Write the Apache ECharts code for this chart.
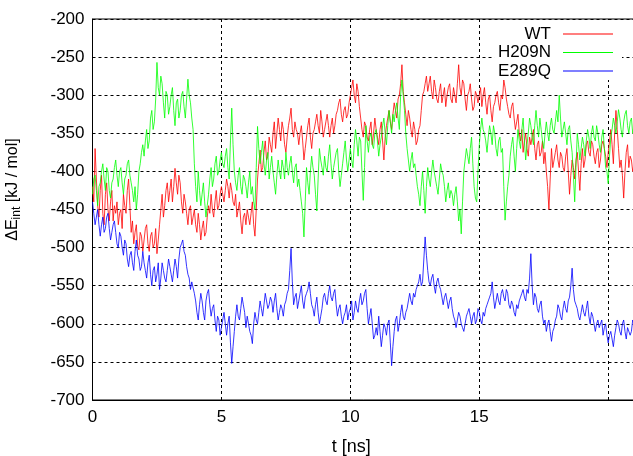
<!DOCTYPE html>
<html>
<head>
<meta charset="utf-8">
<script src="https://cdn.jsdelivr.net/npm/echarts@6/dist/echarts.min.js"></script>
<style>
html,body{margin:0;padding:0;background:#fff;}
#chart{width:633px;height:456px;}
</style>
</head>
<body>
<div id="chart"></div>
<script>
// Sampling step of the time axis (ns)
const tStep = 0.05;
const seriesNames = ['WT', 'H209N', 'E289Q'];
const seriesColors = ['#ff0000', '#00ff00', '#0000ff'];
const xTicks = [0, 5, 10, 15, 20];
const yTicks = [-700, -650, -600, -550, -500, -450, -400, -350, -300, -250, -200];

const wt = [
-420,-440,-370,-410,-445,-460,-425,-405,-455,-470,-430,-415,-450,-465,-440,-425,-465,-445,-455,-440,
-470,-455,-450,-475,-430,-445,-455,-425,-410,-445,-480,-465,-495,-480,-470,-498,-503,-480,-485,-505,
-490,-475,-470,-495,-505,-485,-480,-500,-495,-475,-508,-490,-470,-450,-430,-460,-445,-425,-415,-440,
-425,-410,-440,-420,-396,-415,-430,-405,-415,-440,-455,-430,-440,-455,-470,-450,-445,-470,-460,-450,
-470,-480,-455,-470,-490,-475,-465,-485,-480,-460,-445,-455,-430,-450,-460,-440,-425,-450,-445,-430,
-420,-430,-440,-425,-410,-420,-435,-415,-425,-440,-445,-430,-460,-450,-440,-465,-482,-460,-455,-470,
-450,-460,-470,-455,-440,-470,-485,-450,-410,-390,-372,-400,-395,-375,-360,-385,-380,-355,-365,-375,
-350,-335,-370,-350,-330,-345,-360,-335,-345,-365,-375,-355,-340,-330,-317,-345,-355,-335,-345,-350,
-365,-350,-340,-360,-385,-370,-355,-340,-330,-355,-370,-350,-345,-335,-325,-340,-350,-320,-335,-355,
-345,-335,-325,-340,-355,-340,-330,-350,-340,-325,-320,-310,-305,-325,-335,-320,-315,-330,-325,-310,
-300,-290,-280,-300,-310,-285,-295,-315,-330,-345,-355,-335,-340,-355,-360,-345,-335,-365,-350,-330,
-345,-355,-365,-345,-335,-360,-385,-355,-340,-330,-320,-335,-345,-325,-310,-320,-330,-305,-300,-285,
-260,-295,-310,-325,-340,-320,-330,-345,-355,-335,-345,-365,-360,-345,-340,-320,-300,-295,-285,-275,
-295,-285,-275,-295,-305,-280,-290,-305,-310,-295,-285,-310,-300,-290,-315,-300,-290,-285,-305,-310,
-290,-300,-310,-285,-260,-290,-300,-280,-285,-305,-320,-300,-295,-285,-305,-320,-315,-295,-300,-310,
-300,-290,-315,-300,-290,-310,-325,-305,-300,-320,-335,-315,-310,-300,-295,-310,-320,-300,-305,-280,
-290,-305,-315,-325,-330,-315,-310,-330,-345,-335,-325,-350,-360,-345,-375,-360,-350,-370,-380,-355,
-365,-355,-345,-370,-385,-365,-360,-380,-375,-360,-390,-375,-400,-420,-450,-410,-370,-395,-385,-375,
-365,-385,-395,-375,-380,-395,-400,-380,-370,-400,-430,-405,-385,-395,-410,-385,-375,-400,-425,-390,
-370,-395,-385,-365,-360,-375,-380,-360,-365,-380,-390,-375,-370,-395,-385,-365,-360,-370,-380,-395,
-375,-360,-345,-365,-390,-350,-320,-345,-370,-395,-385,-405,-435,-400,-375,-365,-395,-380,-385,-400,
-390
];

const h209n = [
-430,-410,-405,-425,-445,-420,-415,-400,-390,-410,-425,-395,-400,-425,-435,-415,-410,-395,-385,-405,
-420,-400,-395,-415,-430,-410,-405,-390,-385,-405,-415,-425,-440,-420,-450,-430,-400,-390,-375,-365,
-380,-360,-345,-370,-360,-330,-320,-345,-335,-305,-257,-290,-300,-275,-285,-310,-330,-295,-300,-325,
-315,-300,-290,-320,-340,-310,-305,-330,-320,-300,-295,-315,-330,-305,-279,-300,-310,-330,-345,-390,
-420,-440,-400,-425,-445,-430,-415,-440,-460,-445,-430,-410,-395,-420,-410,-390,-380,-405,-400,-385,
-375,-390,-395,-380,-370,-395,-410,-360,-317,-365,-400,-415,-425,-405,-395,-420,-430,-405,-410,-420,
-435,-415,-400,-430,-420,-440,-450,-395,-341,-370,-390,-375,-360,-390,-405,-385,-375,-410,-395,-380,
-400,-415,-430,-405,-385,-400,-410,-385,-395,-410,-375,-395,-405,-390,-380,-400,-415,-395,-390,-420,
-410,-425,-440,-455,-486,-440,-395,-415,-430,-400,-380,-395,-405,-430,-452,-410,-370,-385,-395,-405,
-380,-395,-400,-380,-365,-390,-410,-395,-385,-375,-370,-400,-420,-405,-390,-375,-360,-385,-400,-385,
-370,-385,-395,-365,-345,-360,-380,-355,-360,-400,-438,-395,-340,-360,-375,-355,-350,-365,-370,-350,
-345,-360,-380,-365,-355,-340,-330,-350,-365,-340,-320,-335,-350,-325,-335,-320,-310,-330,-345,-300,
-280,-300,-320,-350,-370,-385,-400,-385,-375,-395,-390,-405,-420,-430,-445,-420,-400,-425,-455,-420,
-395,-410,-420,-400,-385,-400,-410,-420,-430,-410,-390,-400,-405,-420,-440,-425,-415,-435,-425,-430,
-445,-430,-420,-440,-465,-450,-482,-440,-400,-385,-370,-380,-390,-370,-355,-390,-420,-435,-440,-400,
-365,-345,-330,-345,-350,-360,-375,-355,-340,-350,-365,-340,-350,-370,-380,-360,-355,-375,-370,-420,
-464,-440,-420,-405,-380,-365,-355,-380,-400,-370,-345,-360,-370,-345,-330,-360,-385,-365,-350,-330,
-340,-355,-365,-340,-320,-340,-355,-330,-345,-360,-370,-350,-335,-350,-360,-340,-330,-345,-350,-335,
-320,-335,-300,-330,-355,-345,-335,-350,-365,-345,-340,-360,-375,-405,-440,-395,-350,-365,-385,-370,
-355,-365,-380,-360,-345,-355,-370,-350,-340,-355,-360,-340,-350,-365,-375,-355,-345,-370,-395,-400,
-416,-380,-355,-345,-330,-340,-350,-335,-319,-330,-345,-355,-335,-325,-320,-340,-350,-335,-330,-350,
-340
];

const e289q = [
-440,-455,-470,-460,-450,-470,-485,-470,-460,-480,-475,-460,-455,-475,-490,-480,-470,-465,-480,-495,
-500,-480,-485,-500,-510,-490,-495,-515,-525,-510,-505,-520,-530,-505,-490,-510,-515,-530,-525,-505,
-520,-530,-540,-520,-510,-535,-550,-530,-525,-545,-535,-520,-555,-540,-520,-530,-540,-545,-530,-515,
-525,-535,-545,-530,-515,-525,-540,-515,-500,-495,-490,-505,-510,-525,-535,-540,-555,-545,-545,-560,
-570,-585,-595,-575,-560,-570,-585,-595,-570,-560,-555,-575,-590,-580,-575,-595,-610,-590,-595,-615,
-605,-595,-585,-600,-615,-600,-590,-625,-652,-630,-610,-590,-575,-590,-595,-580,-565,-575,-585,-605,
-590,-600,-610,-615,-626,-600,-585,-595,-600,-585,-570,-580,-590,-575,-560,-570,-580,-575,-565,-570,
-585,-570,-560,-580,-595,-585,-575,-580,-590,-575,-570,-560,-555,-530,-501,-545,-575,-565,-560,-580,
-570,-560,-550,-570,-580,-565,-560,-555,-545,-560,-575,-580,-590,-575,-565,-585,-600,-590,-580,-565,
-560,-570,-575,-560,-550,-565,-570,-560,-555,-575,-590,-580,-575,-590,-600,-590,-585,-575,-595,-585,
-580,-570,-595,-585,-570,-580,-585,-570,-560,-575,-570,-560,-555,-580,-600,-590,-580,-600,-620,-615,
-605,-615,-590,-610,-630,-615,-600,-605,-615,-600,-595,-625,-655,-630,-610,-595,-590,-610,-600,-585,
-575,-590,-595,-585,-580,-570,-560,-570,-575,-560,-565,-555,-550,-545,-535,-550,-545,-515,-486,-510,
-530,-545,-550,-540,-535,-550,-560,-545,-540,-550,-555,-565,-575,-565,-560,-570,-580,-570,-565,-580,
-590,-595,-605,-595,-585,-590,-600,-605,-610,-600,-590,-585,-580,-590,-600,-590,-585,-600,-595,-580,
-585,-595,-600,-585,-590,-580,-575,-570,-565,-560,-545,-565,-580,-570,-560,-570,-575,-560,-555,-565,
-570,-555,-560,-575,-580,-570,-575,-585,-590,-575,-580,-570,-565,-560,-555,-565,-570,-555,-560,-540,
-508,-550,-575,-560,-565,-580,-585,-575,-570,-590,-600,-595,-610,-600,-595,-610,-623,-610,-605,-595,
-590,-575,-580,-590,-595,-580,-570,-580,-585,-570,-565,-550,-527,-555,-570,-575,-580,-590,-595,-585,
-575,-585,-590,-580,-570,-590,-600,-585,-590,-600,-610,-600,-595,-605,-605,-595,-615,-605,-600,-615,
-625,-615,-610,-620,-630,-615,-605,-595,-600,-610,-615,-600,-595,-610,-620,-605,-605,-615,-610,-595,
-600
];

const valueSets = [wt, h209n, e289q];
const FONT = '"Liberation Sans", Arial, Helvetica, sans-serif';

function toPairs(values) {
  return values.map((v, i) => [+(i * tStep).toFixed(2), v]);
}

const chart = echarts.init(document.getElementById('chart'), null, {renderer: 'canvas'});

const option = {
  animation: false,
  backgroundColor: '#ffffff',
  grid: {
    left: 92.5, top: 19, width: 541.5, height: 381,
    show: true, borderColor: '#000', borderWidth: 1,
    containLabel: false, outerBoundsMode: 'none'
  },
  legend: {
    orient: 'vertical',
    align: 'right',
    right: 11,
    top: 20,
    padding: [5, 9, 0, 4],
    backgroundColor: '#ffffff',
    itemWidth: 50,
    itemHeight: 1.2,
    itemGap: 0.5,
    icon: 'rect',
    textStyle: {fontFamily: FONT, fontSize: 17, color: '#000', lineHeight: 18, padding: [0, 7, 0, 0]},
    data: seriesNames,
    selectedMode: false
  },
  xAxis: {
    type: 'value',
    min: 0, max: 21, interval: 5,
    name: 't [ns]',
    nameLocation: 'middle',
    nameGap: 38,
    nameTextStyle: {fontFamily: FONT, fontSize: 18, color: '#000', padding: [0, 24, 0, 0]},
    axisLine: {show: true, onZero: false, lineStyle: {color: '#000', width: 1}},
    axisTick: {show: false},
    axisLabel: {
      fontFamily: FONT, fontSize: 17, color: '#000', margin: 9,
      showMaxLabel: false,
      customValues: xTicks
    },
    splitLine: {show: true, lineStyle: {color: '#000', width: 1, type: [3, 3]}}
  },
  yAxis: {
    type: 'value',
    min: -700, max: -200, interval: 50,
    name: '{a|ΔE}{b|int}{a| [kJ / mol]}',
    nameLocation: 'middle',
    nameRotate: 90,
    nameGap: 70,
    nameTextStyle: {
      fontFamily: FONT, fontSize: 16, color: '#000', padding: [0, 0, 0, 40],
      rich: {
        a: {fontFamily: FONT, fontSize: 16, color: '#000', lineHeight: 20, verticalAlign: 'middle'},
        b: {fontFamily: FONT, fontSize: 12, color: '#000', lineHeight: 12, verticalAlign: 'bottom'}
      }
    },
    axisLine: {show: true, onZero: false, lineStyle: {color: '#000', width: 1}},
    axisTick: {show: false},
    axisLabel: {fontFamily: FONT, fontSize: 17, color: '#000', margin: 8, customValues: yTicks},
    splitLine: {show: true, lineStyle: {color: '#000', width: 1, type: [3, 3]}}
  },
  series: seriesNames.map((name, k) => ({
    name: name,
    type: 'line',
    data: toPairs(valueSets[k]),
    showSymbol: false,
    symbol: 'none',
    color: seriesColors[k],
    lineStyle: {color: seriesColors[k], width: 0.8},
    emphasis: {disabled: true},
    z: 2 + k
  }))
};

chart.setOption(option);
</script>
</body>
</html>
